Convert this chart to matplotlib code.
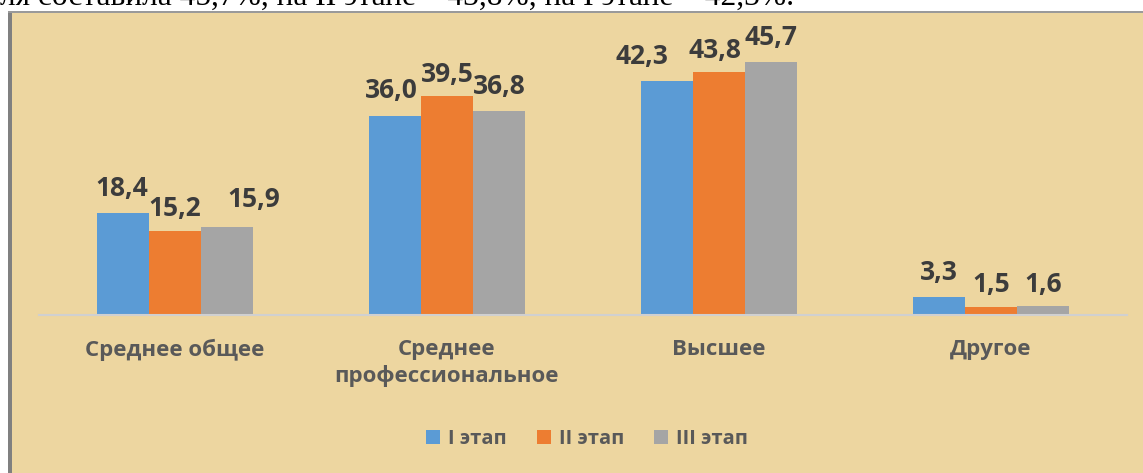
import numpy as np
import matplotlib.pyplot as plt
from matplotlib.patches import Rectangle

# Data
categories = ['Среднее общее', 'Среднее\nпрофессиональное', 'Высшее', 'Другое']
series_names = ['I этап', 'II этап', 'III этап']
stage1 = [18.4, 36.0, 42.3, 3.3]
stage2 = [15.2, 39.5, 43.8, 1.5]
stage3 = [15.9, 36.8, 45.7, 1.6]

colors = ['#5B9BD5', '#ED7D31', '#A5A5A5']
# label nudges in points to mimic the original placement
label_dx = [[-1, -3, -18, 0], [0, 0, -3, 0], [19, 0, 0, 0]]
label_dy = [[8, 8, 8, 8], [6, 6, 6, 6], [10, 8, 8, 6]]

plt.rcParams['font.family'] = ['Open Sans', 'DejaVu Sans']

fig = plt.figure(figsize=(11.43, 4.73), dpi=100)
fig.patch.set_facecolor('white')

# papyrus-like panel with grey frame
W, H = 1143, 473
fig.patches.append(Rectangle((8 / W, 0), 1, (H - 11) / H, transform=fig.transFigure,
                             facecolor='#EDD6A0', edgecolor='none', zorder=-3))
fig.patches.append(Rectangle((8 / W, 0), 4 / W, (H - 11) / H, transform=fig.transFigure,
                             facecolor='#808080', edgecolor='none', zorder=-2))
fig.patches.append(Rectangle((8 / W, (H - 13) / H), 1, 2 / H, transform=fig.transFigure,
                             facecolor='#9A9A9A', edgecolor='none', zorder=-2))

# cut-off line of document text at the top
fig.text(0.0, 1 - 5 / H, 'ля составила 45,7%, на II этапе – 43,8%, на I этапе – 42,3%.',
         family='Liberation Serif', fontsize=22.6, color='black', va='baseline', ha='left')

ax = fig.add_axes([39 / W, (H - 315) / H, 1088 / W, 277 / H])
ax.set_facecolor('none')

x = np.arange(len(categories))
w = 0.191
all_series = [stage1, stage2, stage3]
for i, vals in enumerate(all_series):
    pos = x + (i - 1) * w
    ax.bar(pos, vals, width=w, color=colors[i], label=series_names[i], zorder=2)
    for j, v in enumerate(vals):
        ax.annotate(f'{v:.1f}'.replace('.', ','), (pos[j], v),
                    xytext=(label_dx[i][j], label_dy[i][j]), textcoords='offset points',
                    ha='center', va='bottom', fontsize=19, fontweight='bold', color='#3C3C3C')

ax.set_xlim(-0.5, 3.5)
ax.set_ylim(0, 50)
ax.set_yticks([])
ax.set_xticks(x)
ax.set_xticklabels(categories, fontsize=16, fontweight='bold', color='#595959',
                   linespacing=1.3, va='top')
ax.tick_params(axis='x', length=0, pad=17)
for s in ['top', 'right', 'left']:
    ax.spines[s].set_visible(False)
ax.spines['bottom'].set_color('#D0D0D0')
ax.spines['bottom'].set_linewidth(1.5)

leg = fig.legend(loc='center', bbox_to_anchor=(587 / W, (H - 439) / H), ncol=3,
                 frameon=False, handlelength=0.7, handleheight=0.7, handletextpad=0.4,
                 columnspacing=1.5,
                 prop={'size': 14.5, 'weight': 'bold'})
for t in leg.get_texts():
    t.set_color('#595959')

plt.savefig('out.png', dpi=100)
